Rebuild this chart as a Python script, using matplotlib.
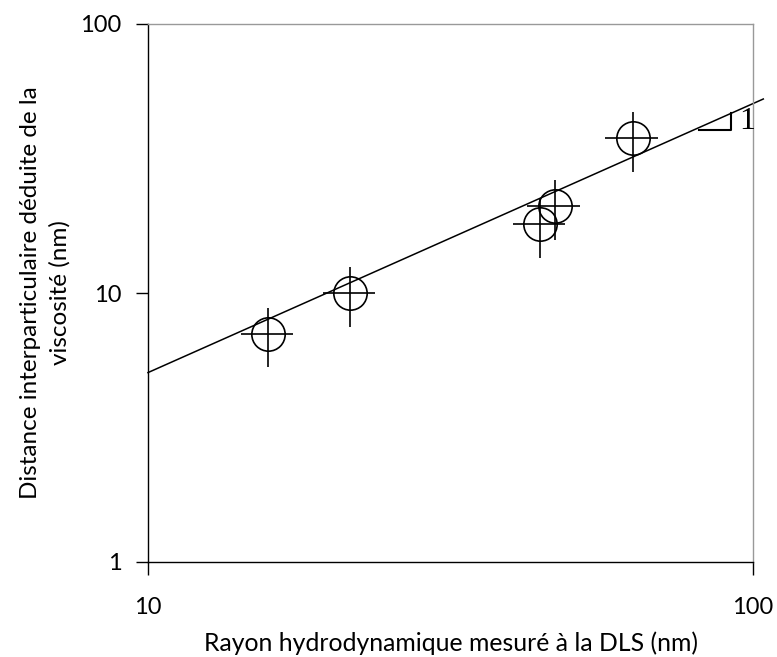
import matplotlib
matplotlib.use("Agg")
import matplotlib.pyplot as plt
import numpy as np

# Data
radius_dls = [15.8, 21.6, 44.5, 47.1, 63.3]
distance_visc = [7.05, 10.0, 18.0, 21.0, 37.7]
x_err_frac = 0.10
y_err_frac = 0.25
fit_coef = 0.506
fit_x_range = [10, 104]
slope_tri_x = [81.4, 92.0]
slope_tri_y = [40.4, 46.7]

xlabel = "Rayon hydrodynamique mesuré à la DLS (nm)"
ylabel = "Distance interparticulaire déduite de la\nviscosité (nm)"

plt.rcParams['font.family'] = ['Lato', 'DejaVu Sans']

fig = plt.figure(figsize=(7.77, 6.57), dpi=100)
ax = fig.add_axes([148/777, 1-562/657, (753-148)/777, (562-24)/657])
ax.set_xscale('log')
ax.set_yscale('log')
ax.set_xlim(10, 100)
ax.set_ylim(1, 100)

x = np.array(radius_dls)
y = np.array(distance_visc)
ax.errorbar(x, y, xerr=x*x_err_frac, yerr=y*y_err_frac, fmt='o', ms=24,
            mfc='none', mec='black', mew=1.2, ecolor='black', elinewidth=1.2,
            capsize=0, color='black', zorder=3)

fx = np.array(fit_x_range, dtype=float)
ax.plot(fx, fit_coef*fx, color='black', lw=1.1, clip_on=False, zorder=2)

# slope triangle
ax.plot([slope_tri_x[0], slope_tri_x[1], slope_tri_x[1]],
        [slope_tri_y[0], slope_tri_y[0], slope_tri_y[1]],
        color='black', lw=1.5, zorder=2)
ax.text(slope_tri_x[1]*1.03, (slope_tri_y[0]*slope_tri_y[1])**0.5, "1",
        family='Liberation Serif', fontsize=23, va='center', ha='left')

ax.set_xticks([10, 100])
ax.set_xticklabels(['10', '100'])
ax.set_yticks([1, 10, 100])
ax.set_yticklabels(['1', '10', '100'])
ax.minorticks_off()
ax.tick_params(axis='both', which='major', direction='out', length=9,
               width=1.0, labelsize=17, color='black')
ax.tick_params(axis='x', pad=16)
ax.tick_params(axis='y', pad=10)

for s in ['top', 'right']:
    ax.spines[s].set_color('#999999')
    ax.spines[s].set_linewidth(1.0)
for s in ['left', 'bottom']:
    ax.spines[s].set_color('black')
    ax.spines[s].set_linewidth(1.0)

ax.set_xlabel(xlabel, fontsize=17.8, labelpad=10)
ax.set_ylabel(ylabel, fontsize=17.5, labelpad=7, linespacing=1.45)

fig.savefig("out.png", dpi=100)
